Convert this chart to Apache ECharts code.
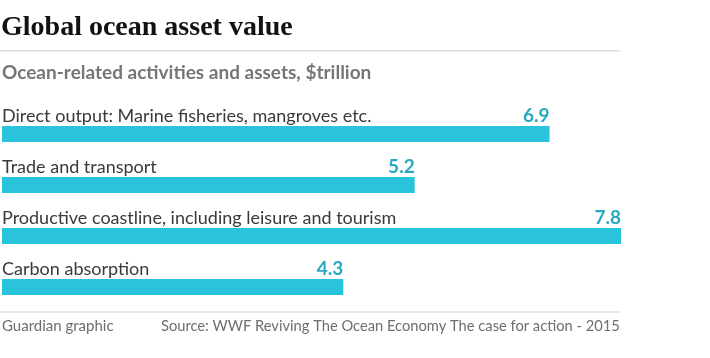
<!DOCTYPE html>
<html>
<head>
<meta charset="utf-8">
<script src="https://cdn.jsdelivr.net/npm/echarts@6/dist/echarts.min.js"></script>
<style>
html,body{margin:0;padding:0;background:#fff;}
#c{width:710px;height:358px;}
</style>
</head>
<body>
<div id="c"></div>
<script>
var categories = [
  'Direct output: Marine fisheries, mangroves etc.',
  'Trade and transport',
  'Productive coastline, including leisure and tourism',
  'Carbon absorption'
];
var values = [6.9, 5.2, 7.8, 4.3];
var titleText = 'Global ocean asset value';
var subtitleText = 'Ocean-related activities and assets, $trillion';
var creditText = 'Guardian graphic';
var sourceText = 'Source: WWF Reviving The Ocean Economy The case for action - 2015';

var chart = echarts.init(document.getElementById('c'), null, {renderer: 'canvas'});
var sans = 'Lato';
chart.setOption({
  animation: false,
  backgroundColor: '#ffffff',
  grid: {left: 2, right: 89, top: 108.5, bottom: 45.5, containLabel: false},
  xAxis: {type: 'value', min: 0, max: 7.8, show: false},
  yAxis: {type: 'category', data: categories, inverse: true, show: false},
  graphic: [
    {type: 'text', left: 1, top: 14, style: {text: titleText, font: 'bold 28px "Liberation Serif"', fill: '#121212'}},
    {type: 'rect', shape: {x: 0, y: 50, width: 620, height: 1.5}, style: {fill: '#dcdcdc'}},
    {type: 'text', left: 2, top: 63, style: {text: subtitleText, font: 'bold 19px ' + sans, fill: '#767676'}},
    {type: 'rect', shape: {x: 0, y: 311.5, width: 620, height: 1}, style: {fill: '#d6d6d6'}},
    {type: 'text', left: 2, top: 319, style: {text: creditText, font: '15px ' + sans, fill: '#6e6e6e'}},
    {type: 'text', left: 161, top: 319, style: {text: sourceText, font: '14.7px ' + sans, fill: '#6e6e6e'}}
  ],
  series: [
    {
      type: 'bar',
      data: values,
      barWidth: 16,
      itemStyle: {color: '#29c3dc'},
      label: {
        show: true,
        position: [0, -1],
        align: 'left',
        verticalAlign: 'bottom',
        formatter: function (p) { return p.name; },
        fontFamily: sans,
        fontSize: 18,
        color: '#3a3a3a'
      }
    },
    {
      type: 'bar',
      data: values,
      barWidth: 16,
      barGap: '-100%',
      itemStyle: {color: 'rgba(0,0,0,0)'},
      label: {
        show: true,
        position: ['100%', -1],
        align: 'right',
        verticalAlign: 'bottom',
        formatter: function (p) { return p.value.toFixed(1); },
        fontFamily: sans,
        fontWeight: 'bold',
        fontSize: 19,
        color: '#27a9c2'
      }
    }
  ]
});
</script>
</body>
</html>
